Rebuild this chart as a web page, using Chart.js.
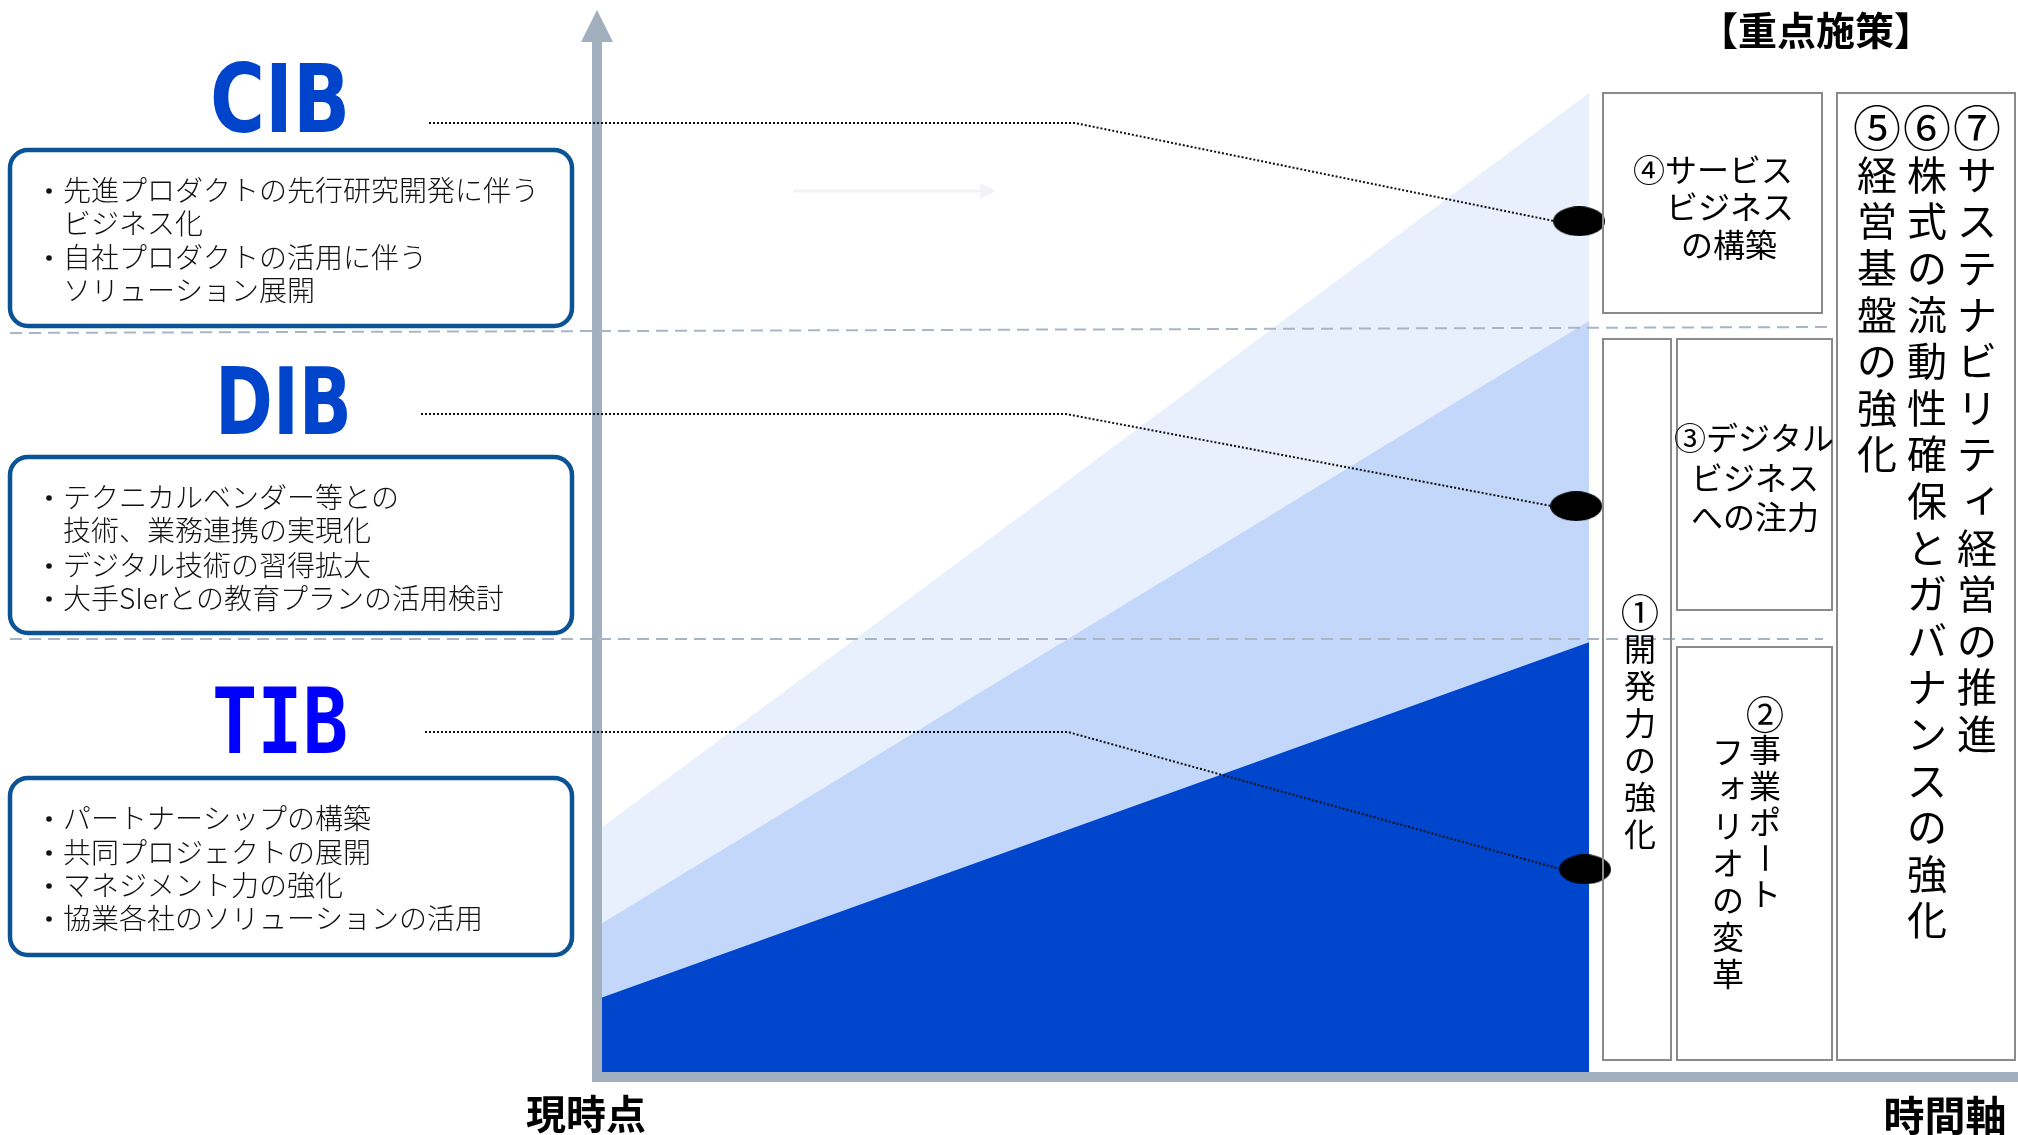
<!DOCTYPE html>
<html lang="ja">
<head>
<meta charset="utf-8">
<title>重点施策ロードマップ</title>
<script src="https://cdn.jsdelivr.net/npm/chart.js@4.4.1/dist/chart.umd.min.js"></script>
<style>
  html, body { margin: 0; padding: 0; background: #fff; overflow: hidden; }
  canvas { display: block; }
</style>
</head>
<body>
<canvas id="roadmap" width="2018" height="1135"></canvas>
<script>
/* =========================================
   重点施策ロードマップ — Chart.js layers
   ========================================= */

// ---- Data ----
const timeline = [0, 100];            // 現時点 → 時間軸
const tibLevel = [7.6, 43.9];
const dibLevel = [15.2, 76.7];
const cibLevel = [25.0, 100];

const units   = ['CIB', 'DIB', 'TIB'];
const markerX = [99.0, 98.7, 99.6];
const markerY = [86.9, 57.8, 20.7];

const cibNotes = [['先進プロダクトの先行研究開発に伴う', 'ビジネス化'], ['自社プロダクトの活用に伴う', 'ソリューション展開']];
const dibNotes = [['テクニカルベンダー等との', '技術、業務連携の実現化'], ['デジタル技術の習得拡大'], ['大手SIerとの教育プランの活用検討']];
const tibNotes = [['パートナーシップの構築'], ['共同プロジェクトの展開'], ['マネジメント力の強化'], ['協業各社のソリューションの活用']];

const measure4   = ['④サービス', 'ビジネス', 'の構築'];
const measure3   = ['③デジタル', 'ビジネス', 'への注力'];
const measure1   = '①開発力の強化';
const measure2   = ['②事業ポート', 'フォリオの変革'];
const measure567 = ['⑤経営基盤の強化', '⑥株式の流動性確保とガバナンスの強化', '⑦サステナビリティ経営の推進'];

const JP = "'Noto Sans CJK JP', sans-serif";
const AXIS_GRAY = '#a2afbe';

// ---- Helpers ----
function fitText(ctx, text, x0, x1, baseline, font, color) {
  ctx.save();
  ctx.font = font;
  const w = ctx.measureText(text).width;
  ctx.translate(x0, baseline);
  ctx.scale((x1 - x0) / w, 1);
  ctx.fillStyle = color;
  ctx.textAlign = 'left';
  ctx.textBaseline = 'alphabetic';
  ctx.fillText(text, 0, 0);
  ctx.restore();
}

const smallKana = 'ァィゥェォッャュョぁぃぅぇぉっゃゅょ';
const circled = '①②③④⑤⑥⑦';
function drawVertical(ctx, text, x, y0, pitch, size) {
  ctx.save();
  ctx.fillStyle = '#000';
  ctx.textAlign = 'center';
  ctx.textBaseline = 'middle';
  [...text].forEach((ch, i) => {
    const y = y0 + i * pitch;
    ctx.font = `400 ${circled.includes(ch) ? size * 1.2 : size}px ${JP}`;
    if (ch === 'ー') {
      ctx.save();
      ctx.translate(x, y);
      ctx.rotate(Math.PI / 2);
      ctx.fillText(ch, 0, 0);
      ctx.restore();
    } else if (smallKana.includes(ch)) {
      ctx.fillText(ch, x + size * 0.12, y - size * 0.12);
    } else {
      ctx.fillText(ch, x, y);
    }
  });
  ctx.restore();
}

function noteBox(ctx, top, bottom, notes, lineYs) {
  ctx.save();
  ctx.strokeStyle = '#0b5394';
  ctx.lineWidth = 4.5;
  ctx.beginPath();
  ctx.roundRect(10, top, 562, bottom - top, 18);
  ctx.stroke();
  ctx.fillStyle = '#111';
  ctx.font = `300 28px ${JP}`;
  ctx.textBaseline = 'middle';
  ctx.textAlign = 'left';
  let k = 0;
  notes.forEach(item => {
    item.forEach((line, j) => {
      const y = lineYs[k++];
      if (j === 0) {
        ctx.beginPath();
        ctx.arc(49, y + 1, 2.8, 0, Math.PI * 2);
        ctx.fill();
      }
      ctx.fillText(line, 63, y);
    });
  });
  ctx.restore();
}

function grayBox(ctx, x0, y0, x1, y1) {
  ctx.save();
  ctx.strokeStyle = '#8a8a8a';
  ctx.lineWidth = 2;
  ctx.strokeRect(x0, y0, x1 - x0, y1 - y0);
  ctx.restore();
}

function centerLines(ctx, lines, centers, ys, size) {
  ctx.save();
  ctx.font = `400 ${size}px ${JP}`;
  ctx.fillStyle = '#000';
  ctx.textAlign = 'center';
  ctx.textBaseline = 'middle';
  lines.forEach((t, i) => ctx.fillText(t, centers[i], ys[i]));
  ctx.restore();
}

// ---- Marker (ellipse point style) ----
const ellipse = document.createElement('canvas');
ellipse.width = 52; ellipse.height = 30;
(function () {
  const c = ellipse.getContext('2d');
  c.fillStyle = '#000';
  c.beginPath();
  c.ellipse(26, 15, 26, 15, 0, 0, Math.PI * 2);
  c.fill();
})();

// ---- Decorations plugin ----
const decor = {
  id: 'decor',
  afterDatasetsDraw(chart) {
    const ctx = chart.ctx;
    const area = chart.chartArea;
    const xs = chart.scales.x, ys = chart.scales.y;

    // axes
    ctx.save();
    ctx.fillStyle = AXIS_GRAY;
    ctx.fillRect(area.left - 10, 42, 10, area.bottom + 10 - 42);
    ctx.beginPath();
    ctx.moveTo(area.left - 5, 10);
    ctx.lineTo(area.left + 11, 42);
    ctx.lineTo(area.left - 21, 42);
    ctx.closePath();
    ctx.fill();
    ctx.fillRect(area.left - 10, area.bottom, 2018 - area.left + 10, 10);
    ctx.restore();

    // band separators
    ctx.save();
    ctx.strokeStyle = '#a9b5c4';
    ctx.lineWidth = 2;
    ctx.setLineDash([12, 7]);
    ctx.beginPath();
    ctx.moveTo(10, 333); ctx.lineTo(1833, 327);
    ctx.moveTo(10, 639); ctx.lineTo(1823, 639);
    ctx.stroke();
    ctx.restore();

    // faint arrow
    ctx.save();
    ctx.strokeStyle = '#f1f3f6';
    ctx.fillStyle = '#f1f3f6';
    ctx.lineWidth = 3;
    ctx.beginPath();
    ctx.moveTo(793, 191); ctx.lineTo(982, 191);
    ctx.stroke();
    ctx.beginPath();
    ctx.moveTo(996, 191); ctx.lineTo(980, 183); ctx.lineTo(980, 199);
    ctx.closePath();
    ctx.fill();
    ctx.restore();

    // leader lines: label → elbow → marker
    const leaders = [[429, 123, 1075], [421, 414, 1066], [425, 732, 1068]];
    ctx.save();
    ctx.strokeStyle = '#111';
    ctx.lineWidth = 2;
    ctx.setLineDash([2, 2]);
    leaders.forEach((l, i) => {
      const mx = xs.getPixelForValue(markerX[i]) - 24;
      const my = ys.getPixelForValue(markerY[i]);
      ctx.beginPath();
      ctx.moveTo(l[0], l[1]);
      ctx.lineTo(l[2], l[1]);
      ctx.lineTo(mx, my);
      ctx.stroke();
    });
    ctx.restore();

    // unit titles
    fitText(ctx, units[0], 210, 350, 132, `bold 95px 'DejaVu Sans'`, '#0044cc');
    fitText(ctx, units[1], 215, 352, 434, `bold 92px 'DejaVu Sans'`, '#0044cc');
    fitText(ctx, units[2], 212, 348, 753, `bold 90px 'DejaVu Sans Mono', 'Liberation Mono', monospace`, '#0000ff');

    // unit notes
    noteBox(ctx, 150, 326, cibNotes, [190, 223, 257, 290]);
    noteBox(ctx, 457, 633, dibNotes, [497, 530, 565, 598]);
    noteBox(ctx, 778, 955, tibNotes, [818, 852, 885, 918]);

    // measures
    grayBox(ctx, 1603, 93, 1822, 313);
    centerLines(ctx, measure4, [1713, 1730, 1729], [170, 207, 245], 32);
    grayBox(ctx, 1677, 339, 1832, 610);
    centerLines(ctx, measure3, [1754, 1755, 1755], [438, 478, 517], 32);
    grayBox(ctx, 1603, 339, 1671, 1060);
    drawVertical(ctx, measure1, 1640, 612, 37, 32);
    grayBox(ctx, 1677, 647, 1832, 1060);
    drawVertical(ctx, measure2[0], 1765, 714, 36, 32);
    drawVertical(ctx, measure2[1], 1728, 752, 37, 32);
    grayBox(ctx, 1837, 93, 2015, 1060);
    drawVertical(ctx, measure567[0], 1877, 128, 46.6, 40);
    drawVertical(ctx, measure567[1], 1927, 128, 46.6, 40);
    drawVertical(ctx, measure567[2], 1977, 128, 46.6, 40);

    // headings
    ctx.save();
    ctx.fillStyle = '#000';
    ctx.textAlign = 'center';
    ctx.textBaseline = 'middle';
    ctx.font = `bold 39px ${JP}`;
    ctx.fillText('【重点施策】', 1816, 30);
    ctx.font = `bold 40px ${JP}`;
    ctx.fillText('現時点', 586, 1114);
    ctx.font = `bold 41px ${JP}`;
    ctx.fillText('時間軸', 1945, 1115);
    ctx.restore();
  }
};

// ---- Chart ----
(function initChart() {
  const el = document.getElementById('roadmap');
  const pts = arr => timeline.map((x, i) => ({ x, y: arr[i] }));

  new Chart(el, {
    type: 'line',
    data: {
      datasets: [
        {
          label: 'markers',
          data: markerX.map((x, i) => ({ x, y: markerY[i] })),
          showLine: false,
          pointStyle: ellipse,
          pointRadius: 15,
          clip: false,
          order: 0,
        },
        { label: units[2], data: pts(tibLevel), fill: 'origin', backgroundColor: '#0046cc', borderWidth: 0, pointRadius: 0, order: 1 },
        { label: units[1], data: pts(dibLevel), fill: 'origin', backgroundColor: '#c3d7fb', borderWidth: 0, pointRadius: 0, order: 2 },
        { label: units[0], data: pts(cibLevel), fill: 'origin', backgroundColor: '#e8f0fd', borderWidth: 0, pointRadius: 0, order: 3 },
      ]
    },
    options: {
      responsive: false,
      animation: false,
      devicePixelRatio: 1,
      events: [],
      layout: { padding: { left: 602, right: 429, top: 93, bottom: 63 } },
      plugins: { legend: { display: false }, tooltip: { enabled: false } },
      scales: {
        x: { type: 'linear', min: 0, max: 100, display: false },
        y: { min: 0, max: 100, display: false }
      }
    },
    plugins: [decor]
  });
})();
</script>
</body>
</html>
